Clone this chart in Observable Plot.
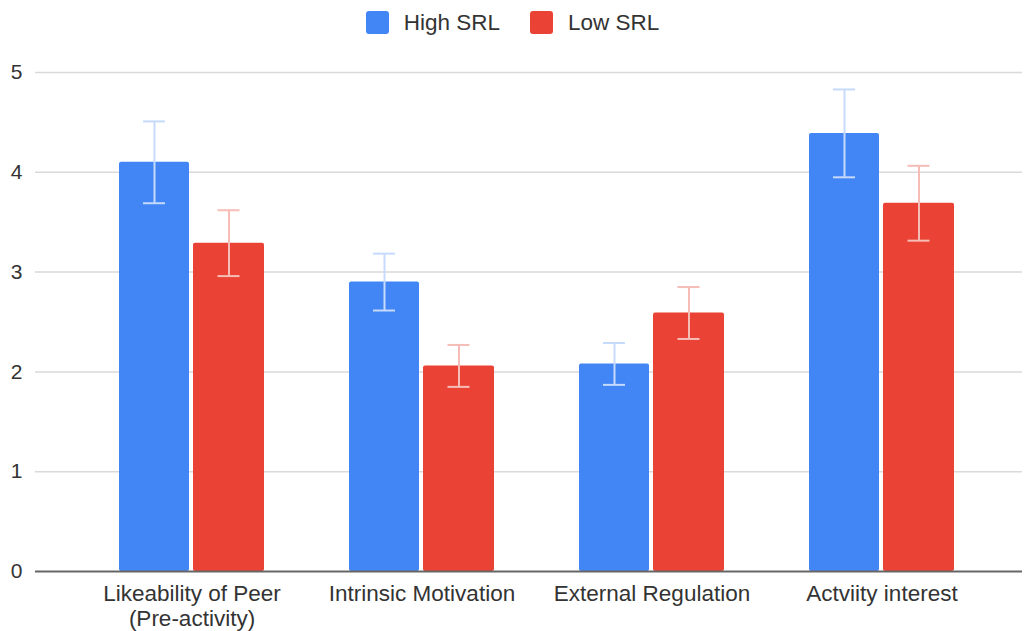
<!DOCTYPE html>
<html>
<head>
<meta charset="utf-8">
<script src="https://cdn.jsdelivr.net/npm/d3@7"></script>
<script src="https://cdn.jsdelivr.net/npm/@observablehq/plot@0.6"></script>
<style>
  body { margin: 0; background: #fff; font-family: "Liberation Sans", Arial, sans-serif; }
  #legend { height: 45px; display: flex; justify-content: center; align-items: center; font-size: 22.5px; color: #333; }
  .item { display: flex; align-items: center; margin: 0 15px; }
  .sw { width: 23px; height: 23px; border-radius: 3px; margin-right: 15px; }
</style>
</head>
<body>
<div id="legend"></div>
<div id="chart"></div>
<script>
const categories = ["Likeability of Peer", "Intrinsic Motivation", "External Regulation", "Actviity interest"];
const tickLabels = ["Likeability of Peer\n(Pre-activity)", "Intrinsic Motivation", "External Regulation", "Actviity interest"];
const seriesNames = ["High SRL", "Low SRL"];
const highValues = [4.1, 2.9, 2.08, 4.39];
const highErrors = [0.41, 0.285, 0.21, 0.44];
const lowValues = [3.29, 2.06, 2.59, 3.69];
const lowErrors = [0.33, 0.21, 0.26, 0.375];
const yTicks = [0, 1, 2, 3, 4, 5];
const colors = ["#4285F4", "#EA4335"];
const errColors = ["#c6dafc", "#f6bdb7"];

const high = categories.map((c, i) => ({cat: c, v: highValues[i], lo: highValues[i] - highErrors[i], hi: highValues[i] + highErrors[i]}));
const low = categories.map((c, i) => ({cat: c, v: lowValues[i], lo: lowValues[i] - lowErrors[i], hi: lowValues[i] + lowErrors[i]}));

const legend = document.getElementById("legend");
seriesNames.forEach((s, i) => {
  const it = document.createElement("div");
  it.className = "item";
  it.innerHTML = `<div class="sw" style="background:${colors[i]}"></div><span>${s}</span>`;
  legend.appendChild(it);
});

const chart = Plot.plot({
  width: 1025,
  height: 586,
  marginLeft: 35,
  marginRight: 3,
  marginTop: 27,
  marginBottom: 60,
  style: {fontFamily: "Liberation Sans, Arial, sans-serif", fontSize: "21px", color: "#333", background: "#fff"},
  x: {domain: categories, paddingInner: 0.37, paddingOuter: 0, insetLeft: 84, insetRight: 68, axis: null, label: null},
  y: {domain: [0, 5], axis: null, label: null},
  marks: [
    Plot.ruleY(yTicks.filter(d => d > 0), {stroke: "#d9d9d9", strokeWidth: 1.5}),
    Plot.barY(high, {x: "cat", y: "v", fill: colors[0], insetRight: 75, rx: 2}),
    Plot.barY(low, {x: "cat", y: "v", fill: colors[1], insetLeft: 74, rx: 2}),
    Plot.ruleX(high, {x: "cat", y1: "lo", y2: "hi", dx: -37.5, stroke: errColors[0], strokeWidth: 2}),
    Plot.ruleX(low, {x: "cat", y1: "lo", y2: "hi", dx: 37, stroke: errColors[1], strokeWidth: 2}),
    Plot.tickY(high, {x: "cat", y: "lo", insetLeft: 24, insetRight: 99, stroke: errColors[0], strokeWidth: 2}),
    Plot.tickY(high, {x: "cat", y: "hi", insetLeft: 24, insetRight: 99, stroke: errColors[0], strokeWidth: 2}),
    Plot.tickY(low, {x: "cat", y: "lo", insetLeft: 98.5, insetRight: 24.5, stroke: errColors[1], strokeWidth: 2}),
    Plot.tickY(low, {x: "cat", y: "hi", insetLeft: 98.5, insetRight: 24.5, stroke: errColors[1], strokeWidth: 2}),
    Plot.ruleY([0], {stroke: "#666", strokeWidth: 2}),
    Plot.axisY(yTicks, {tickSize: 0, tickPadding: 13, fill: "#333", fontSize: 21, label: null, tickFormat: d => String(d)}),
    Plot.axisX(categories, {tickSize: 0, tickPadding: 12, fill: "#333", fontSize: 22.5, lineHeight: 1.1, label: null,
      tickFormat: d => tickLabels[categories.indexOf(d)]})
  ]
});
document.getElementById("chart").appendChild(chart);
</script>
</body>
</html>
